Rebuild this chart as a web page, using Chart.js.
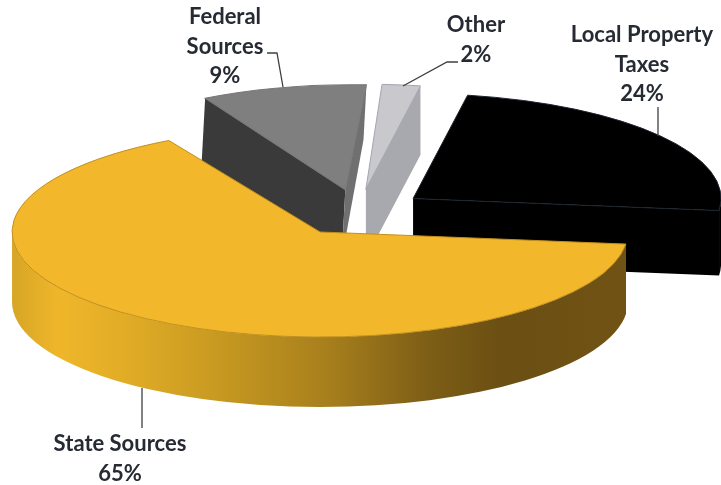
<!DOCTYPE html>
<html>
<head>
<meta charset="utf-8">
<style>
  html, body { margin: 0; background: #fff; }
  canvas { display: block; }
</style>
</head>
<body>
<canvas id="pie" width="721" height="485"></canvas>
<script src="https://cdn.jsdelivr.net/npm/chart.js@4"></script>
<script>
const categories = ['Local Property Taxes', 'State Sources', 'Federal Sources', 'Other'];
const shares = [24, 65, 9, 2];
const labelLines = [['Local Property', 'Taxes'], ['State Sources'], ['Federal', 'Sources'], ['Other']];

// top face colours and side wall colours, same order as categories
const topColors = ['#000000', '#f2b72a', '#7f7f7f', '#c8c8cd'];
const sideColors = ['#000000', '#6e5214', '#3a3a3a', '#a8a8af'];
const farSideColors = ['#000000', '#6e5214', '#707070', '#a8a8af'];
const rimColors = ['#1c2430', '#c08f1e', '#777777', '#a4a4b2'];

const squash = 0.341;
const explode = 68.6;
const drawOrder = [2, 3, 0, 1];

// wall height at the centre of each slice and at the rim of its closing edge
const wallDepths = [65, 70, 70, 69];
const rimDepths = [65, 70, 55, 69];

// the federal slice sits furthest back, so it gets narrowed and leaned a little
const sliceLean = [null, null, { scaleX: 0.96, skew: -0.054, shift: 3 }, null];

// label anchors and leader lines
const labelBoxes = [
  { x: 642, y: 35, leader: [[658, 107], [658, 136]] },
  { x: 120, y: 444, leader: [[142, 388], [142, 428]] },
  { x: 225, y: 17, leader: [[267, 53], [277, 53], [283, 87]] },
  { x: 476, y: 25, leader: [[403, 86], [447, 62], [458, 62]] }
];
const lineGap = 29.5;

const stateWallGradient = (ctx) => {
  const g = ctx.createLinearGradient(10, 0, 625, 0);
  g.addColorStop(0, '#d6a526');
  g.addColorStop(0.08, '#efb62a');
  g.addColorStop(0.2, '#dfab26');
  g.addColorStop(0.32, '#cb9c22');
  g.addColorStop(0.52, '#a67e1c');
  g.addColorStop(0.68, '#7d5e16');
  g.addColorStop(0.8, '#6b4f13');
  g.addColorStop(1, '#705314');
  return g;
};

const pieExtrude = {
  id: 'pieExtrude',
  beforeDatasetsDraw(chart) {
    const ctx = chart.ctx;
    const arcs = chart.getDatasetMeta(0).data;

    drawOrder.forEach(i => {
      const arc = arcs[i];
      const r = arc.outerRadius;
      const mid = (arc.startAngle + arc.endAngle) / 2;
      const cx = arc.x + Math.cos(mid) * explode;
      const cy = arc.y + Math.sin(mid) * explode * squash;
      const depth = wallDepths[i];
      let a0 = arc.startAngle;
      let a1 = arc.endAngle;
      if (a0 < 0) { a0 += Math.PI * 2; a1 += Math.PI * 2; }
      const rim = (a) => [cx + r * Math.cos(a), cy + r * squash * Math.sin(a)];

      ctx.save();
      const lean = sliceLean[i];
      if (lean) {
        ctx.transform(lean.scaleX, 0, lean.skew, 1, cx * (1 - lean.scaleX) - lean.skew * cy + lean.shift, 0);
      }

      const radialWall = (a, rimDepth, color) => {
        const p = rim(a);
        ctx.beginPath();
        ctx.moveTo(cx, cy);
        ctx.lineTo(p[0], p[1]);
        ctx.lineTo(p[0], p[1] + rimDepth);
        ctx.lineTo(cx, cy + depth);
        ctx.closePath();
        ctx.fillStyle = color;
        ctx.fill();
      };
      if (Math.cos(a0) < 0) radialWall(a0, depth, sideColors[i]);
      if (Math.cos(a1) > 0) radialWall(a1, rimDepths[i], farSideColors[i]);

      // outer wall, only the part turned towards the viewer
      [0, 1].forEach(k => {
        const lo = Math.max(a0, Math.PI * 2 * k);
        const hi = Math.min(a1, Math.PI * 2 * k + Math.PI);
        if (hi <= lo) return;
        ctx.beginPath();
        ctx.ellipse(cx, cy, r, r * squash, 0, lo, hi);
        ctx.ellipse(cx, cy + depth, r, r * squash, 0, hi, lo, true);
        ctx.closePath();
        ctx.fillStyle = i === 1 ? stateWallGradient(ctx) : sideColors[i];
        ctx.fill();
      });

      // top face: the arc itself, squashed flat and pushed out along its middle angle
      ctx.save();
      ctx.translate(0, arc.y);
      ctx.scale(1, squash);
      ctx.translate(0, -arc.y);
      ctx.translate(Math.cos(mid) * explode, Math.sin(mid) * explode);
      arc.draw(ctx);
      ctx.restore();

      // thin edge round the top face
      ctx.beginPath();
      ctx.moveTo(cx, cy);
      ctx.ellipse(cx, cy, r, r * squash, 0, a0, a1);
      ctx.closePath();
      ctx.strokeStyle = rimColors[i];
      ctx.lineWidth = 1;
      ctx.stroke();
      ctx.restore();
    });
    return false;
  },
  afterDraw(chart) {
    const ctx = chart.ctx;
    ctx.strokeStyle = '#3c3f44';
    ctx.lineWidth = 1.3;
    labelBoxes.forEach(box => {
      ctx.beginPath();
      box.leader.forEach((p, n) => n ? ctx.lineTo(p[0], p[1]) : ctx.moveTo(p[0], p[1]));
      ctx.stroke();
    });

    ctx.fillStyle = '#262a33';
    ctx.font = 'bold 22px Lato';
    ctx.textAlign = 'center';
    ctx.textBaseline = 'middle';
    labelBoxes.forEach((box, i) => {
      const lines = labelLines[i].concat(shares[i] + '%');
      lines.forEach((line, n) => ctx.fillText(line, box.x, box.y + n * lineGap));
    });
  }
};

new Chart(document.getElementById('pie'), {
  type: 'pie',
  data: {
    labels: categories,
    datasets: [{
      data: shares,
      backgroundColor: topColors,
      borderWidth: 0
    }]
  },
  options: {
    responsive: false,
    animation: false,
    rotation: 10.2,
    radius: 308,
    layout: { padding: { right: 5, bottom: 60 } },
    events: [],
    plugins: { legend: { display: false }, tooltip: { enabled: false } }
  },
  plugins: [pieExtrude]
});
</script>
</body>
</html>
